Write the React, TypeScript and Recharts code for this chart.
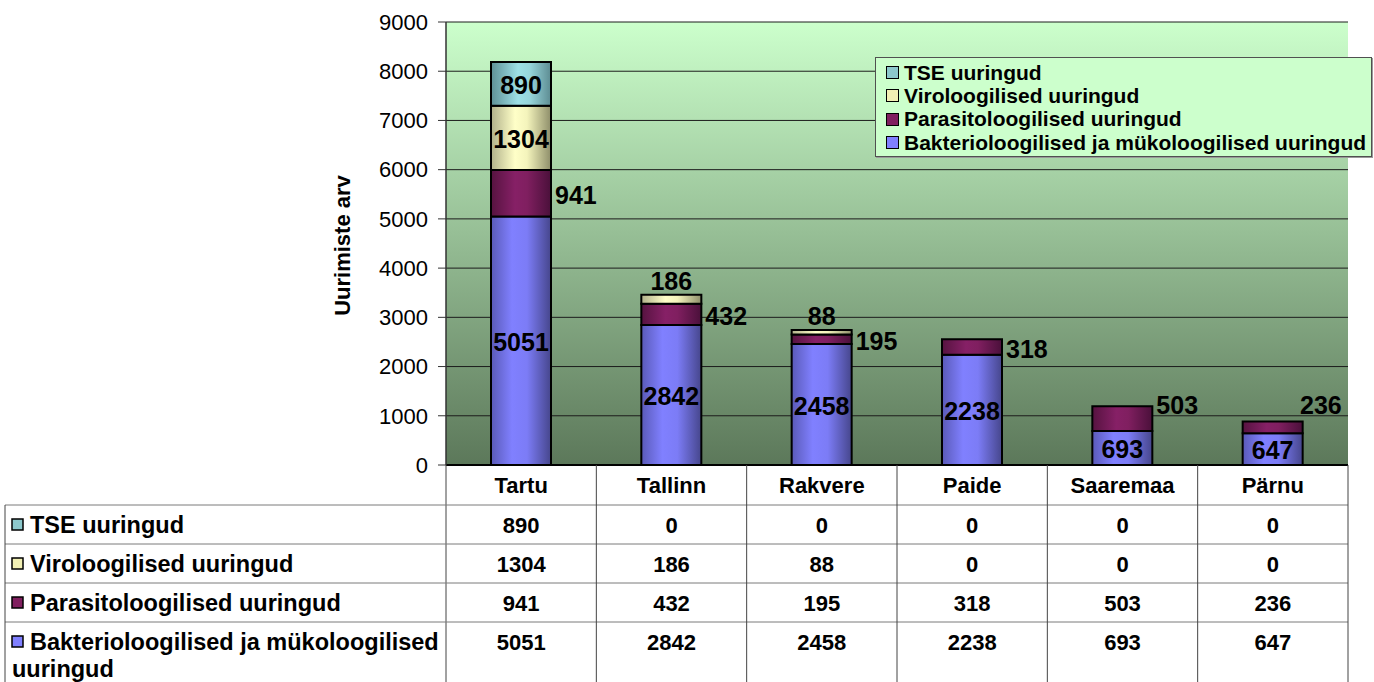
import React from 'react';
import { BarChart, Bar, XAxis, YAxis, CartesianGrid, LabelList, Legend } from 'recharts';

const categories = ['Tartu', 'Tallinn', 'Rakvere', 'Paide', 'Saaremaa', 'Pärnu'];
const bakterioloogilised = [5051, 2842, 2458, 2238, 693, 647];
const parasitoloogilised = [941, 432, 195, 318, 503, 236];
const viroloogilised = [1304, 186, 88, 0, 0, 0];
const tseUuringud = [890, 0, 0, 0, 0, 0];
const yTicks = [0, 1000, 2000, 3000, 4000, 5000, 6000, 7000, 8000, 9000];
const yAxisTitle = 'Uurimiste arv';

const seriesBottomUp = [
  { key: 'bakt', name: 'Bakterioloogilised ja mükoloogilised uuringud', values: bakterioloogilised, fill: 'url(#gBlue)', swatch: '#8080ff' },
  { key: 'para', name: 'Parasitoloogilised uuringud', values: parasitoloogilised, fill: 'url(#gPurple)', swatch: '#801f5f' },
  { key: 'viro', name: 'Viroloogilised uuringud', values: viroloogilised, fill: 'url(#gYellow)', swatch: '#f2f0b4' },
  { key: 'tse', name: 'TSE uuringud', values: tseUuringud, fill: 'url(#gTeal)', swatch: '#8cc8cc' },
];
const seriesTopDown = [...seriesBottomUp].reverse();

const data = categories.map((name, i) => {
  const row: Record<string, any> = { name };
  seriesBottomUp.forEach((s) => { row[s.key] = s.values[i]; });
  return row;
});

const FONT = '"Liberation Sans", Arial, Helvetica, sans-serif';
const W = 1374;
const H = 682;
const PLOT_LEFT = 446;
const PLOT_RIGHT = 1348;
const PLOT_TOP = 22;
const PLOT_BOTTOM = 465;
const TABLE_LEFT = 5;
const HEADER_BOTTOM = 505;
const ROW_LINES = [505, 544, 583, 622];
const ROW_TEXT_OFFSET = 20;
const LINE_GAP = 27;

const labelFont = { fontFamily: FONT, fontWeight: 700, fontSize: 25, fill: '#000' } as const;
const tableFont = { fontFamily: FONT, fontWeight: 700, fontSize: 22, fill: '#000' } as const;
const rowLabelFont = { fontFamily: FONT, fontWeight: 700, fontSize: 23.5, fill: '#000' } as const;

function wrapName(name: string, maxChars: number): string[] {
  const words = name.split(' ');
  const lines: string[] = [];
  let cur = '';
  words.forEach((w) => {
    const next = cur ? cur + ' ' + w : w;
    if (next.length > maxChars && cur) {
      lines.push(cur);
      cur = w;
    } else cur = next;
  });
  if (cur) lines.push(cur);
  return lines;
}

const num = (v: any) => Number(v);

const InsideLabel = (props: any) => {
  const { value } = props;
  if (!value) return null;
  const x = num(props.x), y = num(props.y), w = num(props.width), h = num(props.height);
  return (
    <text x={x + w / 2} y={y + h / 2 + 1} textAnchor="middle" dominantBaseline="central" style={labelFont}>
      {value}
    </text>
  );
};

const SideLabel = (props: any) => {
  const { value } = props;
  if (!value) return null;
  const x = num(props.x), y = num(props.y), w = num(props.width), h = num(props.height);
  const tw = String(value).length * 14;
  let tx = x + w + 4;
  if (tx + tw > PLOT_RIGHT - 6) tx = PLOT_RIGHT - 6 - tw;
  const ty = Math.min(y + h / 2 + 2, PLOT_BOTTOM - 60);
  return (
    <text x={tx} y={ty} textAnchor="start" dominantBaseline="central" style={labelFont}>
      {value}
    </text>
  );
};

const SmartLabel = (props: any) => {
  const { value } = props;
  if (!value) return null;
  const x = num(props.x), y = num(props.y), w = num(props.width), h = num(props.height);
  if (h >= 30) return <InsideLabel {...props} />;
  return (
    <text x={x + w / 2} y={y - 14} textAnchor="middle" dominantBaseline="central" style={labelFont}>
      {value}
    </text>
  );
};

const labelFor: Record<string, any> = {
  bakt: InsideLabel,
  para: SideLabel,
  viro: SmartLabel,
  tse: InsideLabel,
};

const TableTick = (props: any) => {
  const x = num(props.x);
  const index = props.payload?.index ?? props.index ?? 0;
  const value = props.payload?.value;
  const bw = (PLOT_RIGHT - PLOT_LEFT) / categories.length;
  const left = x - bw / 2;
  const right = x + bw / 2;
  const lineColor = '#444';
  const hColor = '#7a7a7a';
  return (
    <g>
      <line x1={left} y1={PLOT_BOTTOM} x2={left} y2={H} stroke={lineColor} strokeWidth={1} />
      {index === categories.length - 1 && (
        <line x1={right} y1={PLOT_BOTTOM} x2={right} y2={H} stroke={lineColor} strokeWidth={1} />
      )}
      <text x={x} y={(PLOT_BOTTOM + HEADER_BOTTOM) / 2} textAnchor="middle" dominantBaseline="central" style={tableFont}>
        {value}
      </text>
      {seriesTopDown.map((s, r) => (
        <text key={s.key} x={x} y={ROW_LINES[r] + ROW_TEXT_OFFSET} textAnchor="middle" dominantBaseline="central" style={tableFont}>
          {s.values[index]}
        </text>
      ))}
      {index === 0 && (
        <g>
          {ROW_LINES.map((ry) => (
            <line key={ry} x1={TABLE_LEFT} y1={ry} x2={PLOT_RIGHT} y2={ry} stroke={hColor} strokeWidth={1} />
          ))}
          <line x1={TABLE_LEFT} y1={HEADER_BOTTOM} x2={TABLE_LEFT} y2={H} stroke={lineColor} strokeWidth={1} />
          {seriesTopDown.map((s, r) => {
            const lines = wrapName(s.name, 38);
            const cy = ROW_LINES[r] + ROW_TEXT_OFFSET;
            return (
              <g key={s.key}>
                <rect x={12} y={cy - 6} width={11} height={11} fill={s.swatch} stroke="#000" strokeWidth={1.5} />
                {lines.map((ln, li) => (
                  <text key={li} x={li === 0 ? 30 : 12} y={cy + li * LINE_GAP} textAnchor="start" dominantBaseline="central" style={rowLabelFont}>
                    {ln}
                  </text>
                ))}
              </g>
            );
          })}
        </g>
      )}
    </g>
  );
};

const AxisTitle = (props: any) => {
  const vb = props.viewBox || {};
  const cx = num(vb.x) + 6;
  const cy = num(vb.y) + num(vb.height) / 2 + 2;
  return (
    <text x={cx} y={cy} transform={`rotate(-90, ${cx}, ${cy})`} textAnchor="middle" dominantBaseline="central"
      style={{ fontFamily: FONT, fontWeight: 700, fontSize: 22, fill: '#000' }}>
      {yAxisTitle}
    </text>
  );
};

const LegendBox = () => (
  <div style={{
    border: '1px solid #505050', background: '#ccffcc', padding: '3px 4px 3px 10px',
    fontFamily: FONT, fontWeight: 700, fontSize: 21, color: '#000', boxSizing: 'border-box',
    width: 497, height: 100, boxShadow: '1px 1px 0 #9a9a9a',
  }}>
    {seriesTopDown.map((s) => (
      <div key={s.key} style={{ display: 'flex', alignItems: 'center', height: 23.3, whiteSpace: 'nowrap' }}>
        <span style={{ display: 'inline-block', width: 11, height: 11, background: s.swatch, border: '1.5px solid #000', marginRight: 5, flex: 'none' }} />
        <span>{s.name}</span>
      </div>
    ))}
  </div>
);

export default function App() {
  return (
    <div style={{ position: 'absolute', left: 0, top: 0, width: W, height: H, background: '#fff' }}>
      <svg width={0} height={0} style={{ position: 'absolute' }}>
        <defs>
          <linearGradient id="gBg" x1="0" y1="0" x2="0" y2="1">
            <stop offset="0%" stopColor="#ccffcc" />
            <stop offset="100%" stopColor="#5c785a" />
          </linearGradient>
          <linearGradient id="gBlue" x1="0" y1="0" x2="1" y2="0">
            <stop offset="0%" stopColor="#5a5ab8" />
            <stop offset="35%" stopColor="#8080ff" />
            <stop offset="60%" stopColor="#7c7cf6" />
            <stop offset="100%" stopColor="#46468c" />
          </linearGradient>
          <linearGradient id="gPurple" x1="0" y1="0" x2="1" y2="0">
            <stop offset="0%" stopColor="#561340" />
            <stop offset="40%" stopColor="#862066" />
            <stop offset="60%" stopColor="#801f60" />
            <stop offset="100%" stopColor="#4a103a" />
          </linearGradient>
          <linearGradient id="gYellow" x1="0" y1="0" x2="1" y2="0">
            <stop offset="0%" stopColor="#b0b08a" />
            <stop offset="40%" stopColor="#ffffc8" />
            <stop offset="60%" stopColor="#f4f4bc" />
            <stop offset="100%" stopColor="#8e8e6a" />
          </linearGradient>
          <linearGradient id="gTeal" x1="0" y1="0" x2="1" y2="0">
            <stop offset="0%" stopColor="#5e9096" />
            <stop offset="45%" stopColor="#9ee0e6" />
            <stop offset="65%" stopColor="#96d4da" />
            <stop offset="100%" stopColor="#5d8c92" />
          </linearGradient>
        </defs>
      </svg>
      <BarChart width={W} height={H} data={data} margin={{ top: PLOT_TOP, right: W - PLOT_RIGHT, left: 336, bottom: 0 }}>
        <CartesianGrid vertical={false} stroke="#1c1c1c" strokeWidth={1} fill="url(#gBg)" fillOpacity={1} />
        <XAxis dataKey="name" height={H - PLOT_BOTTOM} interval={0} tickLine={false}
          axisLine={{ stroke: '#000', strokeWidth: 2 }} tick={<TableTick />} />
        <XAxis xAxisId="top" orientation="top" dataKey="name" height={0} tick={false} tickLine={false}
          axisLine={{ stroke: '#808080', strokeWidth: 2 }} />
        <YAxis domain={[0, 9000]} ticks={yTicks} interval={0} width={110} tickSize={8} tickMargin={10}
          axisLine={{ stroke: '#333', strokeWidth: 1.5 }} tickLine={{ stroke: '#333' }}
          tick={{ fontFamily: FONT, fontSize: 22, fill: '#000' }} label={<AxisTitle />} />
        <YAxis yAxisId="right" orientation="right" domain={[0, 9000]} width={0} tick={false} tickLine={false}
          axisLine={{ stroke: '#808080', strokeWidth: 2 }} />
        <Legend layout="vertical" align="center" verticalAlign="middle" content={<LegendBox />}
          wrapperStyle={{ position: 'absolute', left: 875, top: 57, width: 497, height: 100 }} />
        {seriesBottomUp.map((s) => (
          <Bar key={s.key} dataKey={s.key} name={s.name} stackId="a" fill={s.fill} stroke="#000" strokeWidth={2}
            barSize={60} isAnimationActive={false}>
            <LabelList dataKey={s.key} content={labelFor[s.key]} />
          </Bar>
        ))}
      </BarChart>
    </div>
  );
}
